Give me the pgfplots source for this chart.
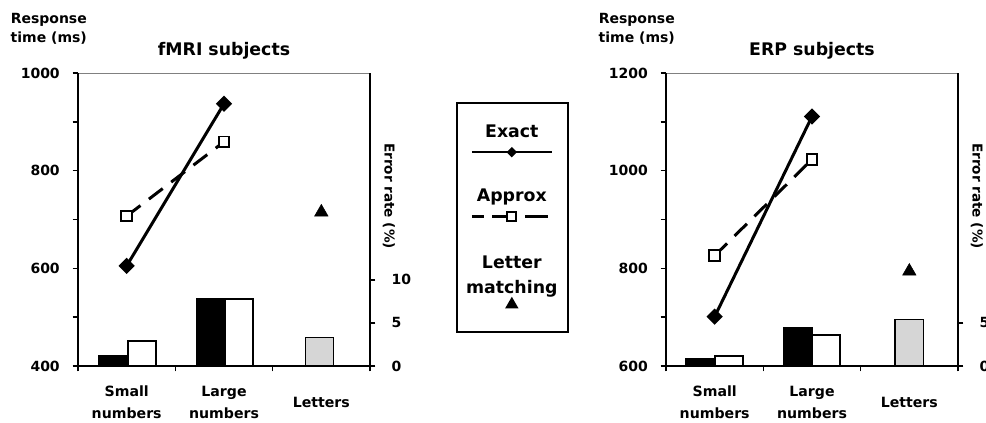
\documentclass[border=0pt]{standalone}
\usepackage{fontspec}
\setmainfont{DejaVu Sans}
\usepackage{pgfplots}
\pgfplotsset{compat=1.18}

\newcommand{\tfont}{\bfseries\fontsize{10.5}{12}\selectfont}
\newcommand{\xfont}{\bfseries\fontsize{10.6}{16.5}\selectfont}
\newcommand{\lfont}{\bfseries\fontsize{13}{18}\selectfont}

% fMRI subjects
\pgfplotstableread{
x   y
0.5 605
1.5 937
}\fmriExact
\pgfplotstableread{
x   y
0.5 707
1.5 859
}\fmriApprox
\pgfplotstableread{
x   y
2.5 715
}\fmriLetter
% ERP subjects
\pgfplotstableread{
x   y
0.5 701
1.5 1111
}\erpExact
\pgfplotstableread{
x   y
0.5 826
1.5 1023
}\erpApprox
\pgfplotstableread{
x   y
2.5 794
}\erpLetter

\pgfplotsset{
  base/.style={scale only axis, width=219pt, height=219.75pt,
    xmin=0, xmax=3, clip=false,
    /pgf/number format/assume math mode=true,
    /pgf/number format/1000 sep={},
    tick align=outside, major tick length=4pt, minor tick length=4pt,
    tick style={black, line width=1.1pt},
    axis line style={line width=1.6pt},
    tick label style={font=\tfont}},
  rt/.style={base, axis x line*=bottom, axis y line*=left,
    xtick={0.5,1.5,2.5},
    xticklabels={{Small\\numbers},{Large\\numbers},Letters},
    minor xtick={0,1,2,3},
    major x tick style={draw=none},
    xticklabel style={font=\xfont, align=center, anchor=center, yshift=-23pt},
    yticklabel style={anchor=east, inner sep=0pt, xshift=-9.5pt},
    every axis y label/.style={at={(axis description cs:-0.1,1.152)}, anchor=center, align=center, font=\bfseries\fontsize{10.5}{14.25}\selectfont},
    ylabel={Response\\time (ms)},
    every axis title shift=0pt,
    title style={at={(axis description cs:0.5,1.075)}, anchor=center, yshift=0pt, font=\bfseries\fontsize{13}{15}\selectfont}},
  err/.style={base, axis x line*=top, axis y line*=right,
    x axis line style={line width=0.5pt, draw=gray},
    xtick=\empty, ymin=0, ymax=34,
    yticklabel style={anchor=west, inner sep=0pt, xshift=12pt},
    every axis y label/.style={at={(axis description cs:1.065,0.58)}, rotate=-90, anchor=center, font=\bfseries\fontsize{10.2}{12}\selectfont},
    ylabel={Error rate (\%)}},
  exact/.style={black, line width=2.25pt, mark=square*, mark size=3.2pt, mark options={rotate=45, solid, fill=black}},
  approx/.style={black, line width=2.25pt, dash pattern=on 13pt off 8pt, mark=square*, mark size=4pt, mark options={solid, fill=white, line width=1.4pt}},
  letter/.style={only marks, mark=triangle*, mark size=5.8pt, mark options={fill=black, draw=black}},
  ebar/.style={ybar, bar width=0.29, bar shift=0pt, fill=black, draw=black, line width=1.1pt},
  abar/.style={ybar, bar width=0.29, bar shift=0pt, fill=white, draw=black, line width=1.5pt},
  lbar/.style={ybar, bar width=0.29, bar shift=0pt, fill=black!16, draw=black, line width=1.1pt},
}

\begin{document}
\begin{tikzpicture}
% ---------- fMRI: error rates ----------
\begin{axis}[err, at={(58.5pt,42.75pt)}, anchor=south west, ytick={0,5,10}]
\addplot[ebar] coordinates {(0.36,1.2) (1.36,7.8)};
\addplot[abar] coordinates {(0.655,2.9) (1.655,7.8)};
\addplot[lbar] coordinates {(2.48,3.3)};
\end{axis}
% ---------- fMRI: response times ----------
\begin{axis}[rt, at={(58.5pt,42.75pt)}, anchor=south west,
  ymin=400, ymax=1000, ytick={400,600,800,1000}, minor ytick={500,700,900},
  title={fMRI subjects},
  legend style={at={(axis description cs:1.488,0.5085)}, anchor=center,
    draw=black, line width=1.5pt, fill=white, inner sep=0pt,
    row sep=0pt, column sep=0pt, nodes={inner sep=0pt, draw=none}}]
\addplot[approx, forget plot] table[x=x,y=y] {\fmriApprox};
\addplot[exact, forget plot] table[x=x,y=y] {\fmriExact};
\addplot[letter, forget plot] table[x=x,y=y] {\fmriLetter};
\addlegendimage{legend image code/.code={
  \path[draw=none, fill=none] (-40.9pt,0pt) rectangle (40.9pt,54.75pt);
  \node[font=\lfont, inner sep=0pt, draw=none] at (0pt,32.5pt) {Exact};
  \draw[black, solid, line width=1.6pt] (-30pt,17.5pt) -- (30pt,17.5pt);
  \draw[black] plot[only marks, mark=square*, mark size=2pt, mark options={rotate=45, fill=black, solid}] coordinates {(0pt,17.5pt)};
}}
\addlegendentry{}
\addlegendimage{legend image code/.code={
  \path[draw=none, fill=none] (-40.9pt,0pt) rectangle (40.9pt,52.5pt);
  \node[font=\lfont, inner sep=0pt, draw=none] at (0pt,38pt) {Approx};
  \draw[black, solid, line width=1.6pt] (-30pt,22.5pt) -- (-20.5pt,22.5pt);
  \draw[black, solid, line width=1.6pt] (-14.5pt,22.5pt) -- (-2pt,22.5pt);
  \draw[black, solid, line width=1.6pt] (10pt,22.5pt) -- (27pt,22.5pt);
  \draw[black] plot[only marks, mark=square*, mark size=3.4pt, mark options={fill=white, solid, line width=1.4pt}] coordinates {(0pt,22.5pt)};
}}
\addlegendentry{}
\addlegendimage{legend image code/.code={
  \path[draw=none, fill=none] (-40.9pt,0pt) rectangle (40.9pt,62.25pt);
  \node[font=\lfont, inner sep=0pt, draw=none] at (0pt,50.25pt) {Letter};
  \node[font=\lfont, inner sep=0pt, draw=none] at (0pt,32.25pt) {matching};
  \draw[black] plot[only marks, mark=triangle*, mark size=4.3pt, mark options={fill=black, solid}] coordinates {(0pt,19.5pt)};
}}
\addlegendentry{}
\end{axis}
% ---------- ERP: error rates ----------
\begin{axis}[err, at={(499.5pt,42.75pt)}, anchor=south west, ytick={0,5}]
\addplot[ebar] coordinates {(0.35,0.84) (1.355,4.47)};
\addplot[abar] coordinates {(0.645,1.15) (1.645,3.58)};
\addplot[lbar] coordinates {(2.5,5.39)};
\end{axis}
% ---------- ERP: response times ----------
\begin{axis}[rt, at={(499.5pt,42.75pt)}, anchor=south west,
  ymin=600, ymax=1200, ytick={600,800,1000,1200}, minor ytick={700,900,1100},
  title={ERP subjects}]
\addplot[approx] table[x=x,y=y] {\erpApprox};
\addplot[exact] table[x=x,y=y] {\erpExact};
\addplot[letter] table[x=x,y=y] {\erpLetter};
\end{axis}
\pgfresetboundingbox
\path[use as bounding box] (0pt,0pt) rectangle (739.5pt,317.25pt);
\end{tikzpicture}
\end{document}
